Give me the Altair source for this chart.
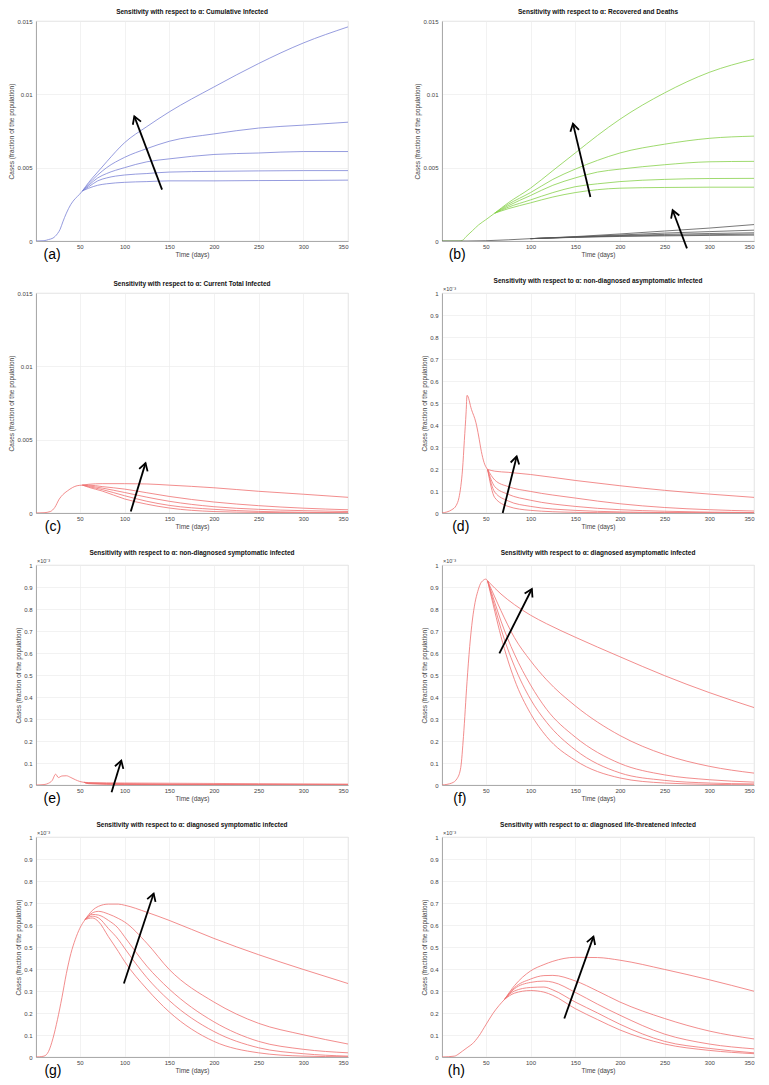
import math
import altair as alt
import pandas as pd

# ---------------- data ----------------
TITLES = [
    "Sensitivity with respect to \u03b1: Cumulative Infected",
    "Sensitivity with respect to \u03b1: Recovered and Deaths",
    "Sensitivity with respect to \u03b1: Current Total Infected",
    "Sensitivity with respect to \u03b1: non-diagnosed asymptomatic infected",
    "Sensitivity with respect to \u03b1: non-diagnosed symptomatic infected",
    "Sensitivity with respect to \u03b1: diagnosed asymptomatic infected",
    "Sensitivity with respect to \u03b1: diagnosed symptomatic infected",
    "Sensitivity with respect to \u03b1: diagnosed life-threatened infected",
]
LETTERS = ["(a)", "(b)", "(c)", "(d)", "(e)", "(f)", "(g)", "(h)"]
X_TICKS = [50, 100, 150, 200, 250, 300, 350]
Y_TICKS_BIG = [0, 0.005, 0.01, 0.015]
Y_TICKS_SMALL = [0, 0.1, 0.2, 0.3, 0.4, 0.5, 0.6, 0.7, 0.8, 0.9, 1]

# (a) cumulative infected
A_COMMON_DAYS = [1, 10, 15, 20, 25, 28, 31, 35, 40, 45, 50, 53]
A_COMMON = [0, 0.00002, 0.0001, 0.0002, 0.0005, 0.0008, 0.0013, 0.0019, 0.0025, 0.0029, 0.0032, 0.00342]
A_FAN_DAYS = [53, 60, 70, 80, 100, 125, 150, 200, 250, 300, 350]
A_FAN = [
    [0.00342, 0.0036, 0.0038, 0.0039, 0.0040, 0.00405, 0.0041, 0.0041, 0.00412, 0.00413, 0.00415],
    [0.00342, 0.0037, 0.0041, 0.0043, 0.0045, 0.0046, 0.0047, 0.00475, 0.00478, 0.0048, 0.0048],
    [0.00342, 0.0038, 0.0043, 0.0046, 0.0050, 0.0054, 0.0056, 0.0059, 0.0060, 0.0061, 0.0061],
    [0.00342, 0.0039, 0.0045, 0.0050, 0.0057, 0.0063, 0.0068, 0.0073, 0.0077, 0.0079, 0.0081],
    [0.00342, 0.0040, 0.0047, 0.0054, 0.0067, 0.0078, 0.0088, 0.0105, 0.0121, 0.0135, 0.0146],
]

# (b) recovered (green) and deaths (black)
B_REC_COMMON_DAYS = [1, 20, 24, 28, 35, 42, 50, 60]
B_REC_COMMON = [0, 0, 0.00005, 0.0003, 0.0007, 0.0011, 0.00145, 0.0019]
B_REC_FAN_DAYS = [60, 75, 100, 125, 150, 175, 200, 250, 300, 350]
B_REC_FAN = [
    [0.0019, 0.0022, 0.0026, 0.0030, 0.0033, 0.0035, 0.0036, 0.00365, 0.00367, 0.00367],
    [0.0019, 0.0023, 0.0028, 0.0033, 0.0037, 0.0039, 0.00405, 0.0042, 0.00426, 0.00427],
    [0.0019, 0.0024, 0.0031, 0.0038, 0.0043, 0.0047, 0.0049, 0.0052, 0.0054, 0.00543],
    [0.0019, 0.0025, 0.0033, 0.0042, 0.0049, 0.0055, 0.0060, 0.0066, 0.0070, 0.00715],
    [0.0019, 0.0026, 0.0036, 0.0048, 0.0060, 0.0072, 0.0083, 0.0101, 0.0115, 0.0124],
]
B_DEATH_COMMON_DAYS = [1, 30, 50, 75, 100]
B_DEATH_COMMON = [0, 0, 0.00002, 0.00008, 0.00016]
B_DEATH_FAN_DAYS = [100, 150, 200, 250, 300, 350]
B_DEATH_FAN = [
    [0.00016, 0.00025, 0.00031, 0.00035, 0.00038, 0.0004],
    [0.00016, 0.00026, 0.00034, 0.00039, 0.00043, 0.00047],
    [0.00016, 0.00027, 0.00037, 0.00045, 0.00051, 0.00056],
    [0.00016, 0.00028, 0.00041, 0.00054, 0.00064, 0.00074],
    [0.00016, 0.0003, 0.00048, 0.00068, 0.00088, 0.00112],
]

# (c) current total infected
C_COMMON_DAYS = [1, 10, 17, 22, 27, 31, 36, 42, 47, 53]
C_COMMON = [0, 0.00002, 0.0001, 0.00038, 0.00095, 0.00125, 0.0015, 0.00174, 0.00186, 0.0019]
C_FAN_DAYS = [53, 60, 75, 100, 125, 150, 200, 250, 300, 350]
C_FAN = [
    [0.0019, 0.00175, 0.0015, 0.00096, 0.0006, 0.00034, 0.0001, 0.00004, 0.00001, 0],
    [0.0019, 0.0018, 0.0016, 0.00118, 0.0008, 0.00052, 0.00025, 0.00011, 0.00005, 0.00002],
    [0.0019, 0.00185, 0.0017, 0.0014, 0.00108, 0.0008, 0.00043, 0.00025, 0.00016, 0.0001],
    [0.0019, 0.0019, 0.0018, 0.00163, 0.00138, 0.00113, 0.00075, 0.0005, 0.00033, 0.00022],
    [0.0019, 0.00196, 0.002, 0.002, 0.00198, 0.0019, 0.00172, 0.00148, 0.00128, 0.00107],
]

# (d) non-diagnosed asymptomatic infected (x 10^-3)
D_COMMON_DAYS = [1, 12, 17, 20, 22, 24, 26, 28, 29, 34, 39, 42, 45, 48, 52]
D_COMMON = [0, 0.015, 0.035, 0.07, 0.12, 0.2, 0.33, 0.46, 0.535, 0.47, 0.41, 0.35, 0.28, 0.23, 0.198]
D_FAN_DAYS = [52, 60, 75, 100, 150, 200, 250, 300, 350]
D_FAN = [
    [0.198, 0.07, 0.03, 0.012, 0.003, 0.001, 0.0, 0.0, 0.0],
    [0.198, 0.095, 0.055, 0.03, 0.012, 0.005, 0.002, 0.001, 0.0],
    [0.198, 0.12, 0.085, 0.058, 0.03, 0.015, 0.008, 0.004, 0.002],
    [0.198, 0.15, 0.12, 0.098, 0.068, 0.042, 0.025, 0.015, 0.009],
    [0.198, 0.19, 0.185, 0.175, 0.148, 0.124, 0.103, 0.086, 0.071],
]

# (e) non-diagnosed symptomatic infected (x 10^-3)
E_COMMON_DAYS = [1, 10, 15, 19, 23, 26, 30, 35, 40, 45, 50, 55]
E_COMMON = [0, 0.002, 0.008, 0.02, 0.049, 0.034, 0.041, 0.042, 0.034, 0.024, 0.016, 0.012]
E_FAN_DAYS = [55, 60, 100, 150, 200, 250, 300, 350]
E_FAN = [
    [0.012, 0.006, 0.002, 0.0005, 0.0001, 0, 0, 0],
    [0.012, 0.007, 0.003, 0.001, 0.0004, 0.0001, 0, 0],
    [0.012, 0.008, 0.004, 0.002, 0.001, 0.0005, 0.0002, 0.0001],
    [0.012, 0.009, 0.006, 0.004, 0.002, 0.001, 0.0007, 0.0005],
    [0.012, 0.011, 0.009, 0.008, 0.007, 0.006, 0.005, 0.004],
]

# (f) diagnosed asymptomatic infected (x 10^-3)
F_COMMON_DAYS = [1, 12, 18, 22, 25, 29, 32, 35, 38, 41, 44, 47, 50, 52]
F_COMMON = [0, 0.009, 0.03, 0.08, 0.22, 0.47, 0.63, 0.75, 0.83, 0.88, 0.915, 0.93, 0.936, 0.928]
F_FAN_DAYS = [52, 60, 67, 82, 100, 118, 150, 200, 250, 300, 350]
F_FAN = [
    [0.928, 0.79, 0.675, 0.48, 0.325, 0.22, 0.112, 0.032, 0.009, 0.003, 0.001],
    [0.928, 0.81, 0.71, 0.54, 0.39, 0.285, 0.16, 0.055, 0.021, 0.009, 0.005],
    [0.928, 0.83, 0.745, 0.595, 0.455, 0.344, 0.218, 0.098, 0.046, 0.024, 0.013],
    [0.928, 0.855, 0.792, 0.67, 0.565, 0.478, 0.36, 0.225, 0.138, 0.085, 0.054],
    [0.928, 0.895, 0.868, 0.82, 0.772, 0.733, 0.672, 0.583, 0.497, 0.42, 0.352],
]

# (g) diagnosed symptomatic infected (x 10^-3)
G_COMMON_DAYS = [1, 5, 10, 15, 20, 25, 30, 35, 40, 45, 50, 56]
G_COMMON = [0, 0.001, 0.004, 0.025, 0.085, 0.17, 0.27, 0.38, 0.47, 0.535, 0.585, 0.625]
G_FAN_DAYS = [56, 64, 71, 82, 93, 100, 125, 150, 200, 250, 300, 350]
G_FAN = [
    [0.625, 0.632, 0.615, 0.547, 0.48, 0.435, 0.309, 0.205, 0.071, 0.019, 0.004, 0.001],
    [0.625, 0.64, 0.632, 0.584, 0.535, 0.495, 0.361, 0.257, 0.116, 0.042, 0.015, 0.004],
    [0.625, 0.648, 0.645, 0.621, 0.585, 0.547, 0.413, 0.309, 0.16, 0.071, 0.035, 0.019],
    [0.625, 0.655, 0.662, 0.65, 0.63, 0.614, 0.517, 0.398, 0.25, 0.153, 0.101, 0.059],
    [0.625, 0.666, 0.685, 0.695, 0.695, 0.69, 0.658, 0.621, 0.539, 0.465, 0.398, 0.334],
]

# (h) diagnosed life-threatened infected (x 10^-3)
H_COMMON_DAYS = [1, 15, 20, 24, 30, 35, 42, 50, 58, 65, 71]
H_COMMON = [0, 0.004, 0.015, 0.027, 0.045, 0.06, 0.094, 0.146, 0.198, 0.235, 0.262]
H_FAN_DAYS = [71, 82, 100, 115, 125, 150, 175, 200, 250, 300, 350]
H_FAN = [
    [0.262, 0.29, 0.302, 0.295, 0.28, 0.22, 0.17, 0.123, 0.059, 0.03, 0.015],
    [0.262, 0.30, 0.316, 0.318, 0.305, 0.25, 0.2, 0.149, 0.071, 0.039, 0.019],
    [0.262, 0.31, 0.339, 0.345, 0.34, 0.294, 0.24, 0.19, 0.104, 0.059, 0.037],
    [0.262, 0.315, 0.354, 0.37, 0.371, 0.346, 0.3, 0.25, 0.175, 0.118, 0.082],
    [0.262, 0.324, 0.391, 0.42, 0.435, 0.453, 0.452, 0.44, 0.398, 0.351, 0.299],
]

# annotation arrows: (tail_day, tail_value, tip_day, tip_value)
ARROWS = [
    [(142, 0.0035, 111, 0.0085)],
    [(167, 0.0030, 147.5, 0.0080), (275, -0.0005, 259, 0.0021)],
    [(107, 0.0001, 123.5, 0.0034)],
    [(68.9, 0.0, 84.5, 0.257)],
    [(85.5, -0.033, 96.4, 0.111)],
    [(65.2, 0.598, 101.5, 0.891)],
    [(99.3, 0.334, 132.6, 0.743)],
    [(137.8, 0.175, 170.4, 0.547)],
]
LETTER_DAY = [19, 18, 20, 22, 19, 21, 20, 17]

BLUE = "#7b83d6"
GREEN = "#86d04a"
DEATH = "#555555"
RED = "#ef7070"

# ---------------- layout / style ----------------
W, H = 312, 220
FONT = "Liberation Sans"
X_DOMAIN = [1, 350]


def curves(common_days, common_vals, fan_days, fan, tag):
    rows = [{"day": d, "value": v, "curve": f"{tag}c"} for d, v in zip(common_days, common_vals)]
    for k, vals in enumerate(fan):
        for d, v in zip(fan_days, vals):
            rows.append({"day": d, "value": v, "curve": f"{tag}{k}"})
    return pd.DataFrame(rows)


def panel(idx, groups, y_max, y_ticks, small):
    x_scale = alt.Scale(domain=X_DOMAIN, nice=False, zero=False)
    y_scale = alt.Scale(domain=[0, y_max], nice=False, zero=False)
    x_axis = alt.Axis(values=X_TICKS, title="Time (days)", grid=True, labelOverlap=False,
                      tickCount=len(X_TICKS) + 1)
    y_axis = alt.Axis(values=y_ticks, format="~g", labelOverlap=False, grid=True,
                      tickCount=len(y_ticks) + 1, title="Cases (fraction of the population)")

    def X(field):
        return alt.X(field, type="quantitative", scale=x_scale, axis=x_axis)

    def Y(field):
        return alt.Y(field, type="quantitative", scale=y_scale, axis=y_axis)

    layers = []
    for df, color in groups:
        layers.append(
            alt.Chart(df).mark_line(color=color, strokeWidth=0.8, interpolate="monotone", clip=True)
            .encode(x=X("day"), y=Y("value"), detail="curve:N")
        )

    # arrows
    px_day = W / (X_DOMAIN[1] - X_DOMAIN[0])
    px_val = H / y_max
    rows = []
    for (tx, ty, hx, hy) in ARROWS[idx]:
        dx = (hx - tx) * px_day
        dy_up = (hy - ty) * px_val
        ang = math.degrees(math.atan2(dx, dy_up)) % 360
        rows.append({"day": tx, "value": ty, "x2": hx, "y2": hy, "ang": ang})
    adf = pd.DataFrame(rows)
    layers.append(
        alt.Chart(adf).mark_rule(color="black", strokeWidth=1.8)
        .encode(x=X("day"), y=Y("value"), x2="x2:Q", y2="y2:Q")
    )
    hdf = pd.DataFrame({"day": adf["x2"], "value": adf["y2"], "ang": adf["ang"]})
    layers.append(
        alt.Chart(hdf).mark_point(shape="M -0.45 0.75 L 0 0 L 0.45 0.75", filled=False,
                                  size=380, strokeWidth=1.8, color="black", opacity=1)
        .encode(x=X("day"), y=Y("value"), angle=alt.Angle("ang:Q", scale=None))
    )
    # panel letter
    ldf = pd.DataFrame({"day": [LETTER_DAY[idx]], "value": [-y_max * 13.5 / H], "t": [LETTERS[idx]]})
    layers.append(
        alt.Chart(ldf).mark_text(fontSize=14, font=FONT, color="black", baseline="middle")
        .encode(x=X("day"), y=Y("value"), text="t:N")
    )
    if small:
        edf = pd.DataFrame({"day": [X_DOMAIN[0]], "value": [y_max], "t": ["\u00d710\u207b\u00b3"]})
        layers.append(
            alt.Chart(edf).mark_text(fontSize=5.5, font=FONT, color="#444444", align="left",
                                     baseline="bottom", dx=1, dy=-1)
            .encode(x=X("day"), y=Y("value"), text="t:N")
        )
    return alt.layer(*layers).properties(
        width=W, height=H,
        title=alt.TitleParams(TITLES[idx], fontSize=6.5, fontWeight="bold", font=FONT,
                              offset=3, anchor="middle", color="#111111"),
    )


panels = [
    panel(0, [(curves(A_COMMON_DAYS, A_COMMON, A_FAN_DAYS, A_FAN, "a"), BLUE)], 0.015, Y_TICKS_BIG, False),
    panel(1, [(curves(B_REC_COMMON_DAYS, B_REC_COMMON, B_REC_FAN_DAYS, B_REC_FAN, "r"), GREEN),
              (curves(B_DEATH_COMMON_DAYS, B_DEATH_COMMON, B_DEATH_FAN_DAYS, B_DEATH_FAN, "k"), DEATH)],
          0.015, Y_TICKS_BIG, False),
    panel(2, [(curves(C_COMMON_DAYS, C_COMMON, C_FAN_DAYS, C_FAN, "c"), RED)], 0.015, Y_TICKS_BIG, False),
    panel(3, [(curves(D_COMMON_DAYS, D_COMMON, D_FAN_DAYS, D_FAN, "d"), RED)], 1, Y_TICKS_SMALL, True),
    panel(4, [(curves(E_COMMON_DAYS, E_COMMON, E_FAN_DAYS, E_FAN, "e"), RED)], 1, Y_TICKS_SMALL, True),
    panel(5, [(curves(F_COMMON_DAYS, F_COMMON, F_FAN_DAYS, F_FAN, "f"), RED)], 1, Y_TICKS_SMALL, True),
    panel(6, [(curves(G_COMMON_DAYS, G_COMMON, G_FAN_DAYS, G_FAN, "g"), RED)], 1, Y_TICKS_SMALL, True),
    panel(7, [(curves(H_COMMON_DAYS, H_COMMON, H_FAN_DAYS, H_FAN, "h"), RED)], 1, Y_TICKS_SMALL, True),
]

chart = (
    alt.concat(*panels, columns=2, spacing=alt.RowColnumber(row=52, column=94))
    .properties(bounds="flush", padding={"left": 0, "top": 0, "right": 0, "bottom": 0},
                background="white")
    .configure_view(stroke="#d6d6d6", strokeWidth=0.8)
    .configure_axis(
        labelFont=FONT, titleFont=FONT, labelFontSize=6, titleFontSize=6.5,
        labelColor="#444444", titleColor="#444444", titleFontWeight="normal",
        domainColor="#9a9a9a", domainWidth=0.8, gridColor="#ececec", gridWidth=0.7,
        ticks=False, labelPadding=4, titlePadding=2,
    )
    .configure_axisX(labelPadding=2, titlePadding=2)
)

chart.save("out.html", embed_options={"renderer": "svg", "actions": False})
